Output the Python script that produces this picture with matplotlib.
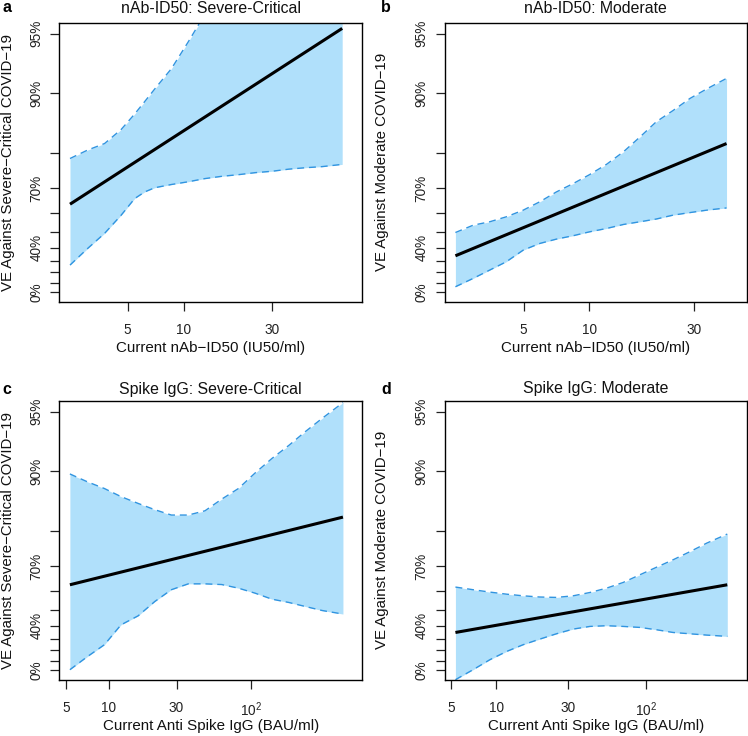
import numpy as np
import matplotlib
matplotlib.use("Agg")
import matplotlib.pyplot as plt
from matplotlib.ticker import NullLocator

plt.rcParams['font.family'] = ['Liberation Sans', 'DejaVu Sans']
plt.rcParams['mathtext.fontset'] = 'custom'
plt.rcParams['mathtext.rm'] = 'Liberation Sans'

# ---- data (VE in %, antibody level in natural units) ----
a_x = [2.45, 3.05, 3.76, 4.62, 5.46, 6.18, 7.00, 8.61, 10.6, 13.0, 16.0, 19.7, 24.3, 29.9, 36.8, 45.3, 55.7, 71.4]
a_lower = [26.6, 39.5, 49.2, 58.9, 66.1, 68.6, 70.1, 71.2, 72.1, 73.1, 73.8, 74.3, 74.9, 75.3, 75.9, 76.3, 76.6, 77.2]
a_upper = [78.7, 80.7, 82.1, 84.8, 87.3, 89.0, 90.5, 92.5, 94.5, 96.0, 97.0, 97.6, 98.1, 98.5, 98.7, 99.0, 99.1, 99.3]
a_est_x = [2.45, 71.4]
a_est = [63.8, 95.3]

b_x = [2.44, 2.94, 3.50, 4.17, 4.98, 5.93, 7.06, 8.42, 10.0, 11.96, 14.3, 17.0, 20.2, 24.1, 28.8, 34.3, 42.3]
b_lower = [5.6, 14.3, 22.2, 29.4, 38.3, 42.9, 45.7, 47.8, 50.1, 52.0, 54.2, 55.6, 57.0, 58.9, 60.1, 61.2, 62.2]
b_upper = [49.7, 53.8, 55.6, 58.1, 61.2, 64.8, 68.6, 71.5, 74.3, 77.2, 80.3, 83.4, 86.1, 87.8, 89.4, 90.5, 91.6]
b_est_x = [2.44, 42.3]
b_est = [34.1, 82.1]

c_x = [5.33, 7.11, 9.33, 12.2, 16.1, 21.1, 27.6, 36.3, 47.6, 62.4, 81.8, 107, 141, 185, 242, 318, 445]
c_lower = [0.0, 14.3, 25.2, 40.6, 46.5, 54.7, 60.5, 63.1, 63.1, 62.8, 61.2, 58.9, 55.9, 54.2, 52.0, 49.7, 47.6]
c_upper = [89.7, 88.7, 87.8, 86.6, 85.5, 84.4, 83.4, 83.4, 84.2, 86.2, 87.8, 89.8, 91.4, 92.6, 93.7, 94.6, 95.5]
c_est_x = [5.33, 445]
c_est = [62.7, 83.0]

d_x = [5.32, 6.98, 9.03, 11.7, 15.1, 19.5, 25.2, 32.6, 42.2, 54.5, 70.5, 91.2, 118, 152, 197, 255, 350]
d_lower = [-12.3, 0.0, 10.9, 19.1, 25.2, 29.9, 34.1, 37.6, 39.5, 40.0, 39.5, 38.8, 37.1, 35.1, 34.1, 33.1, 32.1]
d_upper = [61.7, 60.5, 59.4, 58.4, 57.6, 57.0, 56.8, 57.6, 59.2, 61.2, 63.7, 66.8, 69.6, 72.1, 74.6, 77.0, 79.3]
d_est_x = [5.32, 350]
d_est = [35.1, 62.7]

ve_ticks = [0, 10, 20, 30, 40, 50, 60, 70, 80, 90, 95]
ve_labels = ['0%', '', '', '', '40%', '', '', '70%', '', '90%', '95%']
nab_ticks = [5, 10, 30]
nab_labels = ['5', '10', '30']
igg_ticks = [5, 10, 30, 100]
igg_labels = ['5', '10', '30', r'$\mathregular{10^2}$']

panels = [
    dict(letter='a', title='nAb-ID50: Severe-Critical', x=a_x, lo=a_lower, hi=a_upper,
         ex=a_est_x, ey=a_est, xlim=(2.146, 91.6), xt=nab_ticks, xl=nab_labels,
         xlabel='Current nAb\u2212ID50 (IU50/ml)', ylabel='VE Against Severe\u2212Critical COVID\u221219',
         box=(59.3, 22.7, 362.3, 301.7), tpad=6.8),
    dict(letter='b', title='nAb-ID50: Moderate', x=b_x, lo=b_lower, hi=b_upper,
         ex=b_est_x, ey=b_est, xlim=(2.18, 52.3), xt=nab_ticks, xl=nab_labels,
         xlabel='Current nAb\u2212ID50 (IU50/ml)', ylabel='VE Against Moderate COVID\u221219',
         box=(444.7, 22.7, 746.7, 301.7), tpad=6.8),
    dict(letter='c', title='Spike IgG: Severe-Critical', x=c_x, lo=c_lower, hi=c_upper,
         ex=c_est_x, ey=c_est, xlim=(4.49, 609), xt=igg_ticks, xl=igg_labels,
         xlabel='Current Anti Spike IgG (BAU/ml)', ylabel='VE Against Severe\u2212Critical COVID\u221219',
         box=(59.3, 400.7, 362.3, 679.7), tpad=4.6),
    dict(letter='d', title='Spike IgG: Moderate', x=d_x, lo=d_lower, hi=d_upper,
         ex=d_est_x, ey=d_est, xlim=(4.51, 472), xt=igg_ticks, xl=igg_labels,
         xlabel='Current Anti Spike IgG (BAU/ml)', ylabel='VE Against Moderate COVID\u221219',
         box=(444.7, 400.7, 746.7, 679.7), tpad=5.5),
]

W, H = 748, 736
FILL = '#b0e0fb'
EDGE = '#3094e0'


def ve_fwd(v):
    v = np.asarray(v, dtype=float)
    return -np.log(np.clip(1 - v / 100.0, 1e-9, None))


def ve_inv(t):
    return 100.0 * (1 - np.exp(-np.asarray(t, dtype=float)))


fig = plt.figure(figsize=(W / 100, H / 100), dpi=100)

for p in panels:
    l, t, r, b = p['box']
    ax = fig.add_axes([l / W, 1 - b / H, (r - l) / W, (b - t) / H])
    ax.set_xscale('log')
    ax.set_yscale('function', functions=(ve_fwd, ve_inv))

    # confidence band + dashed bounds, then the point estimate
    ax.fill_between(p['x'], p['lo'], p['hi'], color=FILL, lw=0)
    ax.plot(p['x'], p['lo'], color=EDGE, lw=1.0, dashes=(5, 3.5))
    ax.plot(p['x'], p['hi'], color=EDGE, lw=1.0, dashes=(5, 3.5))
    ax.plot(p['ex'], p['ey'], color='black', lw=2.2, solid_capstyle='butt')

    ax.set_xlim(p['xlim'])
    ax.set_ylim(-12.3, 95.6)
    ax.set_xticks(p['xt'])
    ax.set_xticklabels(p['xl'])
    ax.xaxis.set_minor_locator(NullLocator())
    ax.set_yticks(ve_ticks)
    ax.set_yticklabels(ve_labels, rotation=90, va='center')
    ax.yaxis.set_minor_locator(NullLocator())
    ax.tick_params(axis='both', length=6.5, width=0.9, labelsize=9.8, colors='#222222')
    ax.tick_params(axis='x', pad=8.5)
    ax.tick_params(axis='y', pad=5)
    for s in ax.spines.values():
        s.set_linewidth(1.0)

    ax.set_title(p['title'], fontsize=11.4, pad=p['tpad'], color='#111111')
    ax.set_xlabel(p['xlabel'], fontsize=10.9, color='#111111')
    ax.xaxis.set_label_coords(0.5, -46 / (b - t))
    ax.xaxis.label.set_va('center')
    ax.set_ylabel(p['ylabel'], fontsize=10.8, color='#111111')
    off = l - 8 if l < 100 else l - 374 - 8
    ax.yaxis.set_label_coords(-off / (r - l), 0.5)
    ax.yaxis.label.set_va('center')

    lx = 7 if l < 100 else 386
    ly = 8 if t < 100 else 389
    fig.text(lx / W, 1 - ly / H, p['letter'], fontsize=11.5, fontweight='bold',
             ha='center', va='center')

fig.savefig('out.png', dpi=100)
